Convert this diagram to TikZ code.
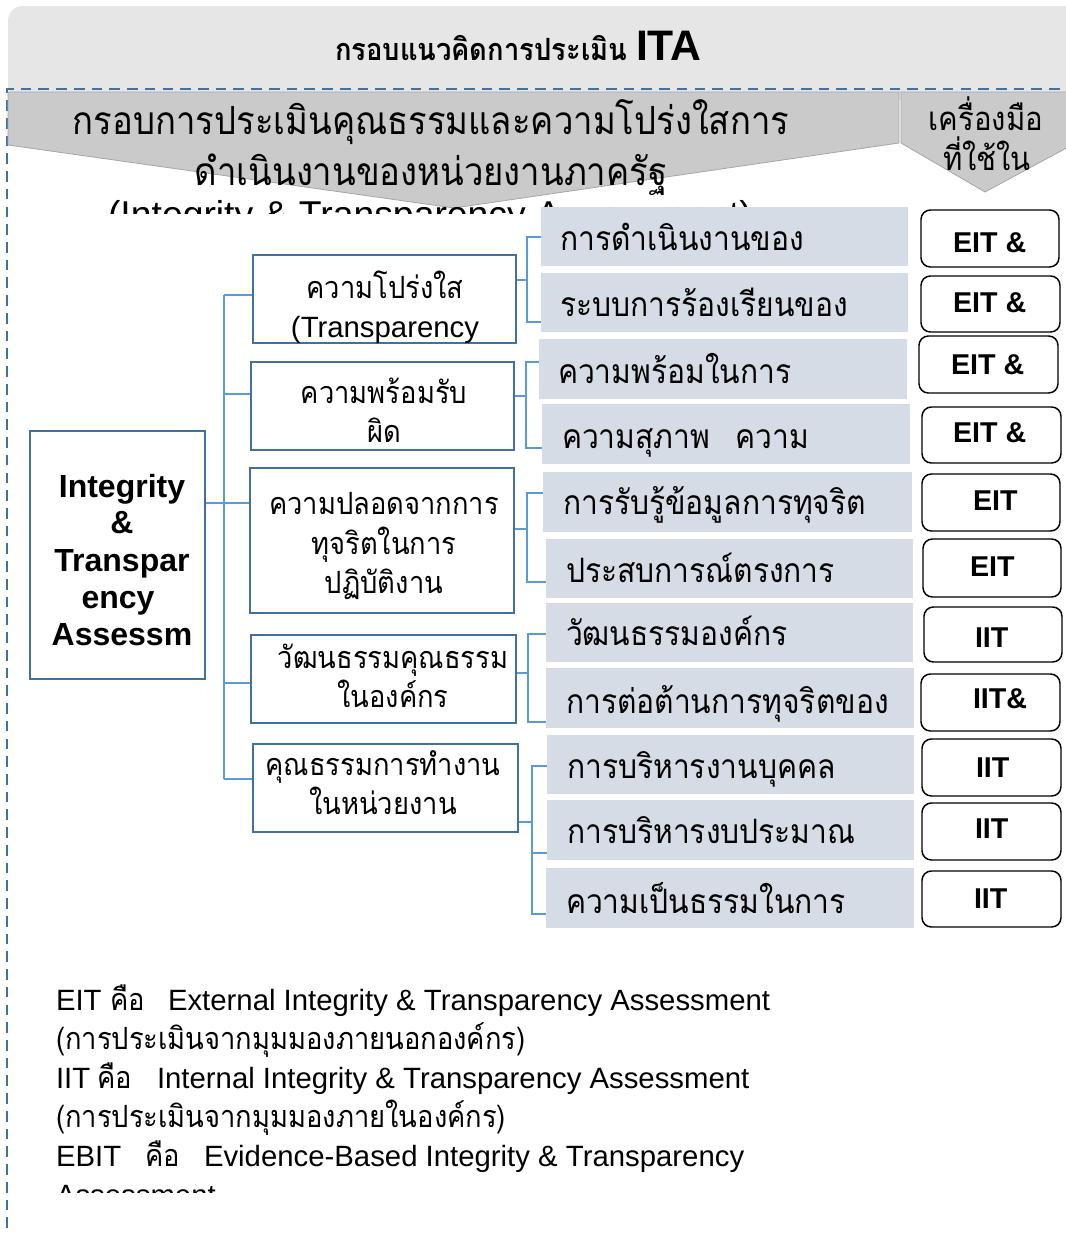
\documentclass[tikz,border=0pt]{standalone}
\usepackage{graphicx}
\usepackage{fontspec}
\setmainfont{Liberation Sans}
\newfontfamily\thfont[Script=Thai]{Loma}
\newcommand{\tallth}[1]{\scalebox{1}[1.12]{#1}}
\usetikzlibrary{fit}
\definecolor{hdrgray}{HTML}{E6E6E6}
\definecolor{dashblue}{HTML}{41719C}
\definecolor{chevfill}{HTML}{CACACA}
\definecolor{chevline}{HTML}{A6A6A6}
\definecolor{boxblue}{HTML}{41719C}
\definecolor{connblue}{HTML}{5B9BD5}
\definecolor{itemfill}{HTML}{D6DCE5}
\tikzset{
  mbox/.style={draw=boxblue, line width=2.2pt, fill=white, inner sep=0pt},
  ibox/.style={fill=itemfill, inner sep=0pt},
  tbox/.style={draw=black, line width=1.1pt, rounded corners=7pt, fill=white, inner sep=0pt},
  conn/.style={draw=connblue, line width=1.1pt},
  lbl/.style={inner sep=0pt, outer sep=0pt},
  thm/.style={lbl, font=\thfont\fontsize{20.5}{25}\selectfont},
  thw/.style={lbl, font=\thfont\fontsize{22}{26}\selectfont},
  thg/.style={lbl, font=\thfont\fontsize{22.5}{27}\selectfont},
  thbig/.style={lbl, font=\thfont\fontsize{26}{31}\selectfont},
  latm/.style={lbl, font=\fontsize{22}{26}\selectfont},
  latb/.style={lbl, font=\bfseries\fontsize{24}{28}\selectfont},
  toolt/.style={lbl, font=\bfseries\fontsize{21.5}{26}\selectfont},
  leg/.style={lbl, font=\fontsize{22}{26}\selectfont},
  legth/.style={lbl, font=\thfont\fontsize{20.5}{25}\selectfont},
}
\begin{document}
\begin{tikzpicture}[x=0.75pt,y=-0.75pt]
\useasboundingbox (0,0) rectangle (1066,1235);
% header
\fill[hdrgray, rounded corners=11pt] (8,6) rectangle (1090,100);
\node[lbl, anchor=base west, font=\thfont\bfseries\fontsize{20.5}{25}\selectfont] (ttl) at (335,60) {\tallth{กรอบแนวคิดการประเมิน}};
\node[lbl, anchor=base west, font=\bfseries\fontsize{32}{36}\selectfont] (ita) at (636,60) {ITA};
% dashed frame
\draw[dashblue, line width=1.8pt, dash pattern=on 8pt off 5.3pt] (7,1228) -- (7,89) -- (1075,89);
% chevrons
\draw[chevline, fill=chevfill, line width=0.6pt] (8,92) -- (899,92) -- (899,143) -- (454,208) -- (8,145) -- cycle;
\draw[chevline, fill=chevfill, line width=0.6pt] (901,92) -- (1072,92) -- (1072,145) -- (985,192) -- (901,143) -- cycle;
\node[thbig, anchor=base] (c1) at (431,134) {\tallth{กรอบการประเมินคุณธรรมและความโปร่งใสการ}};
\node[thbig, anchor=base] (c2) at (431,185) {\tallth{ดำเนินงานของหน่วยงานภาครัฐ}};
\begin{scope}
\clip (0,150) rectangle (1066,213);
\node[lbl, anchor=base, font=\fontsize{28}{32}\selectfont] (c3) at (430,227) {(Integrity \& Transparency Assessment)};
\end{scope}
\node[thw, anchor=base] (w1) at (986,130) {\tallth{เครื่องมือ}};
\node[thw, anchor=base] (w2) at (987,170) {\tallth{ที่ใช้ใน}};
% left box
\node[mbox, fit={(30,431) (205,679)}] (L) {};
\node[latb, anchor=base] (L1) at (122,497) {Integrity};
\node[latb, anchor=base] (L2) at (122,533) {\&};
\node[latb, anchor=base] (L3) at (122,571) {Transpar};
\node[latb, anchor=base] (L4) at (118,608) {ency};
\node[latb, anchor=base] (L5) at (122,645) {Assessm};
% middle boxes
\node[mbox, fit={(253,255) (516,343)}] (b1) {};
\node[mbox, fit={(251,362) (514,450)}] (b2) {};
\node[mbox, fit={(250,468) (514,613)}] (b3) {};
\node[mbox, fit={(251,635) (516,723)}] (b4) {};
\node[mbox, fit={(253,744) (518,832)}] (b5) {};
\node[thm, anchor=base] (b1a) at (385,298) {\tallth{ความโปร่งใส}};
\node[latm, anchor=base] (b1b) at (385,337) {(Transparency};
\node[thm, anchor=base] (b2a) at (384,403) {\tallth{ความพร้อมรับ}};
\node[thm, anchor=base] (b2b) at (384,442) {\tallth{ผิด}};
\node[thm, anchor=base] (b3a) at (384,514) {\tallth{ความปลอดจากการ}};
\node[thm, anchor=base] (b3b) at (384,554) {\tallth{ทุจริตในการ}};
\node[thm, anchor=base] (b3c) at (384,593) {\tallth{ปฏิบัติงาน}};
\node[thm, anchor=base] (b4a) at (393,668) {\tallth{วัฒนธรรมคุณธรรม}};
\node[thm, anchor=base] (b4b) at (393,707) {\tallth{ในองค์กร}};
\node[thm, anchor=base] (b5a) at (383,775) {\tallth{คุณธรรมการทำงาน}};
\node[thm, anchor=base] (b5b) at (383,814) {\tallth{ในหน่วยงาน}};
% trunk connectors
\coordinate (tA) at (224,295);
\coordinate (tB) at (224,394);
\coordinate (tC) at (224,503);
\coordinate (tD) at (224,683);
\coordinate (tE) at (224,779);
\draw[conn] (tA) -- (tE);
\draw[conn] (tA) -- (tA -| b1.west);
\draw[conn] (tB) -- (tB -| b2.west);
\draw[conn] (L.east |- tC) -- (tC -| b3.west);
\draw[conn] (tD) -- (tD -| b4.west);
\draw[conn] (tE) -- (tE -| b5.west);
% item boxes
\node[ibox, fit={(541,207) (908,266)}] (i1) {};
\node[ibox, fit={(541,273) (908,332)}] (i2) {};
\node[ibox, fit={(539,339) (907,399)}] (i3) {};
\node[ibox, fit={(542,404) (910,464)}] (i4) {};
\node[ibox, fit={(543,472) (912,532)}] (i5) {};
\node[ibox, fit={(546,539) (913,598)}] (i6) {};
\node[ibox, fit={(546,603) (913,662)}] (i7) {};
\node[ibox, fit={(546,668) (914,728)}] (i8) {};
\node[ibox, fit={(547,735) (914,794)}] (i9) {};
\node[ibox, fit={(547,800) (914,860)}] (i10) {};
\node[ibox, fit={(546,868) (914,928)}] (i11) {};
\node[thg, anchor=base west] (t1) at (560,250) {\tallth{การดำเนินงานของ}};
\node[thg, anchor=base west] (t2) at (560,316) {\tallth{ระบบการร้องเรียนของ}};
\node[thg, anchor=base west] (t3) at (558,383) {\tallth{ความพร้อมในการ}};
\node[thg, anchor=base west] (t4) at (562,448) {\tallth{ความสุภาพ\hspace{19pt}ความ}};
\node[thg, anchor=base west] (t5) at (563,514) {\tallth{การรับรู้ข้อมูลการทุจริต}};
\node[thg, anchor=base west] (t6) at (566,582) {\tallth{ประสบการณ์ตรงการ}};
\node[thg, anchor=base west] (t7) at (566,645) {\tallth{วัฒนธรรมองค์กร}};
\node[thg, anchor=base west] (t8) at (566,713) {\tallth{การต่อต้านการทุจริตของ}};
\node[thg, anchor=base west] (t9) at (567,778) {\tallth{การบริหารงานบุคคล}};
\node[thg, anchor=base west] (t10) at (567,843) {\tallth{การบริหารงบประมาณ}};
\node[thg, anchor=base west] (t11) at (566,913) {\tallth{ความเป็นธรรมในการ}};
% bracket connectors
\coordinate (k1t) at (527,237); \coordinate (k1m) at (527,280); \coordinate (k1b) at (527,322);
\draw[conn] (k1t -| i1.west) -- (k1t) -- (k1b) -- (k1b -| i2.west);
\draw[conn] (b1.east |- k1m) -- (k1m);
\coordinate (k2t) at (526,362); \coordinate (k2m) at (526,396); \coordinate (k2b) at (526,448);
\draw[conn] (k2t -| i3.west) -- (k2t) -- (k2b) -- (k2b -| i4.west);
\draw[conn] (b2.east |- k2m) -- (k2m);
\coordinate (k3t) at (527,493); \coordinate (k3m) at (527,529); \coordinate (k3b) at (527,582);
\draw[conn] (k3t -| i5.west) -- (k3t) -- (k3b) -- (k3b -| i6.west);
\draw[conn] (b3.east |- k3m) -- (k3m);
\coordinate (k4t) at (528,634); \coordinate (k4m) at (528,673); \coordinate (k4b) at (528,722);
\draw[conn] (k4t -| i7.west) -- (k4t) -- (k4b) -- (k4b -| i8.west);
\draw[conn] (b4.east |- k4m) -- (k4m);
\coordinate (k5t) at (532,766); \coordinate (k5m) at (532,822); \coordinate (k5n) at (532,853); \coordinate (k5b) at (532,914);
\draw[conn] (k5t -| i9.west) -- (k5t) -- (k5b) -- (k5b -| i11.west);
\draw[conn] (k5n) -- (k5n -| i10.west);
\draw[conn] (b5.east |- k5m) -- (k5m);
% tool boxes
\node[tbox, fit={(921,210) (1059,267)}] (e1) {};
\node[tbox, fit={(921,276) (1060,332)}] (e2) {};
\node[tbox, fit={(919,336) (1058,393)}] (e3) {};
\node[tbox, fit={(922,407) (1061,463)}] (e4) {};
\node[tbox, fit={(922,474) (1060,531)}] (e5) {};
\node[tbox, fit={(923,539) (1061,597)}] (e6) {};
\node[tbox, fit={(924,607) (1062,662)}] (e7) {};
\node[tbox, fit={(921,674) (1060,731)}] (e8) {};
\node[tbox, fit={(922,739) (1061,796)}] (e9) {};
\node[tbox, fit={(922,803) (1061,860)}] (e10) {};
\node[tbox, fit={(922,871) (1061,927)}] (e11) {};
\node[toolt, anchor=base west] (u1) at (953,252) {EIT \&};
\node[toolt, anchor=base west] (u2) at (953,312) {EIT \&};
\node[toolt, anchor=base west] (u3) at (951,374) {EIT \&};
\node[toolt, anchor=base west] (u4) at (953,442) {EIT \&};
\node[toolt, anchor=base west] (u5) at (973,510) {EIT};
\node[toolt, anchor=base west] (u6) at (970,576) {EIT};
\node[toolt, anchor=base west] (u7) at (975,647) {IIT};
\node[toolt, anchor=base west] (u8) at (973,708) {IIT\&};
\node[toolt, anchor=base west] (u9) at (976,777) {IIT};
\node[toolt, anchor=base west] (u10) at (975,838) {IIT};
\node[toolt, anchor=base west] (u11) at (974,908) {IIT};
% legend
\node[leg, anchor=base west] (g1a) at (56,1010) {EIT};
\node[legth, anchor=base west] (g1b) at (110,1010) {\tallth{คือ}};
\node[leg, anchor=base west] (g1c) at (168,1010) {External Integrity \& Transparency Assessment};
\node[legth, anchor=base west] (g2) at (56,1049) {\tallth{(การประเมินจากมุมมองภายนอกองค์กร)}};
\node[leg, anchor=base west] (g3a) at (56,1088) {IIT};
\node[legth, anchor=base west] (g3b) at (97,1088) {\tallth{คือ}};
\node[leg, anchor=base west] (g3c) at (157,1088) {Internal Integrity \& Transparency Assessment};
\node[legth, anchor=base west] (g4) at (56,1127) {\tallth{(การประเมินจากมุมมองภายในองค์กร)}};
\node[leg, anchor=base west] (g5a) at (56,1166) {EBIT};
\node[legth, anchor=base west] (g5b) at (145,1166) {\tallth{คือ}};
\node[leg, anchor=base west] (g5c) at (204,1166) {Evidence-Based Integrity \& Transparency};
\begin{scope}
\clip (0,1170) rectangle (1066,1192);
\node[leg, anchor=base west] (g6) at (56,1205) {Assessment};
\end{scope}
\end{tikzpicture}
\end{document}
